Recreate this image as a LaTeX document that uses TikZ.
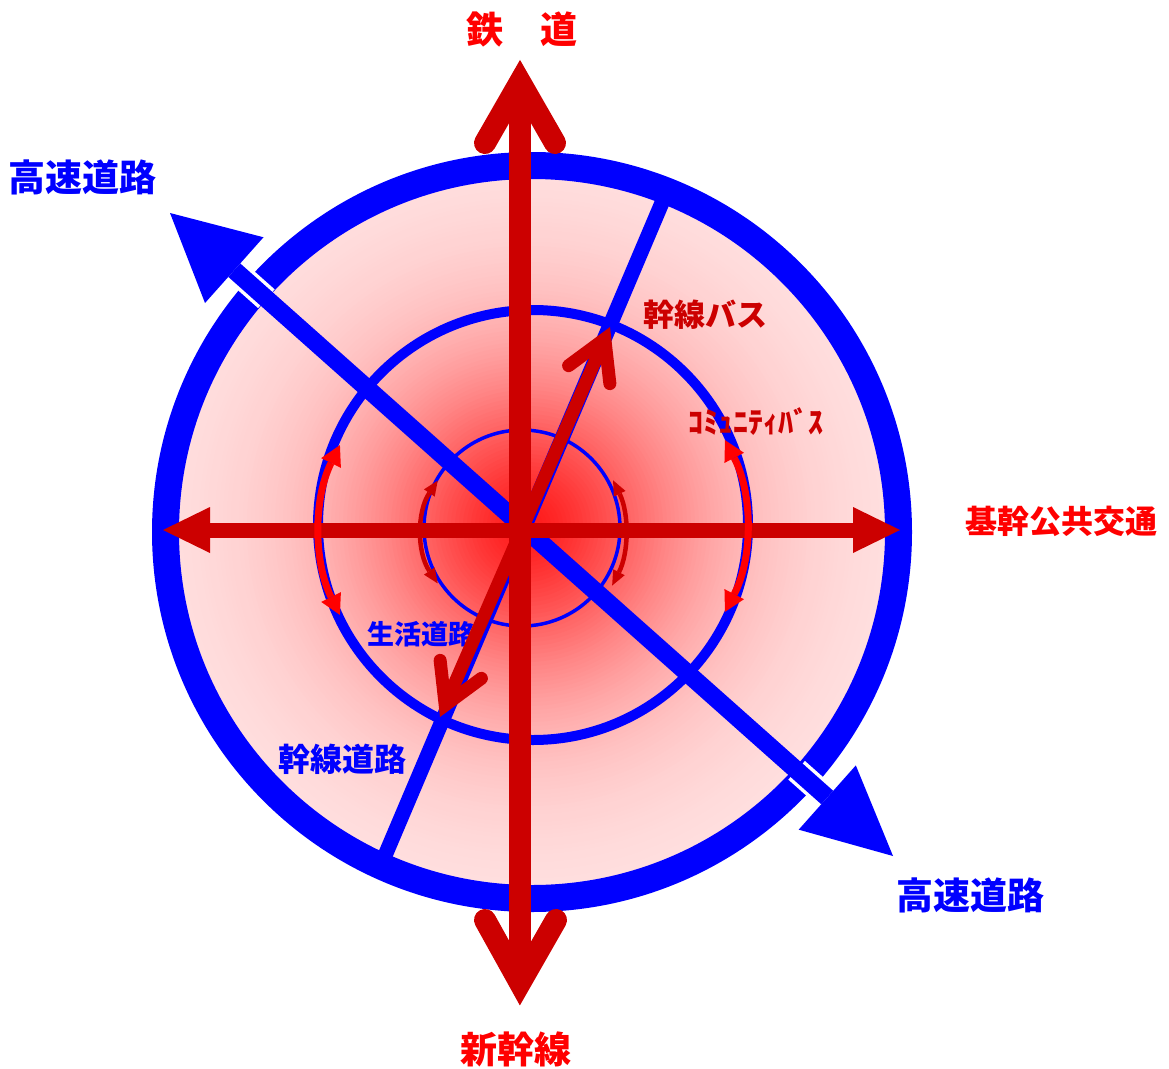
\documentclass[tikz,border=0pt]{standalone}
\usepackage{fontspec}
\newfontfamily\jp{Noto Sans CJK JP}
\usetikzlibrary{arrows.meta,calc}
\definecolor{dred}{HTML}{CC0000}
\definecolor{lred}{HTML}{FF0000}
\definecolor{blu}{HTML}{0000FF}
\begin{document}
\begin{tikzpicture}[x=1pt,y=-1pt,
  lbl/.style={font=\jp\bfseries\fontsize{#1}{#1}\selectfont, inner sep=0pt},
  ring/.style={blu, line width=27pt},
  midring/.style={blu, line width=10pt},
  inring/.style={blu, line width=3.5pt},
  bluroad/.style={blu, line width=15pt},
  highway/.style={blu, line width=18pt,
    {Triangle[length=86pt,width=88pt,line width=0pt]}-{Triangle[length=88pt,width=86pt,line width=0pt]}},
  hwborder/.style={white, line width=25pt},
  rail/.style={dred, line width=22pt},
  railhead/.style={dred, line width=22pt, line cap=round, line join=miter},
  trunk/.style={dred, line width=15pt,
    {Triangle[length=47pt,width=46pt,line width=0pt]}-{Triangle[length=47pt,width=46pt,line width=0pt]}},
  busline/.style={dred, line width=13pt},
  bushead/.style={dred, line width=13pt, line cap=round, line join=miter},
  combus/.style={lred, line width=7pt,
    {Triangle[length=20pt,width=22pt,line width=0pt]}-{Triangle[length=20pt,width=22pt,line width=0pt]}},
  localarc/.style={dred, line width=4.5pt,
    {Triangle[length=15pt,width=13pt,line width=0pt]}-{Triangle[length=15pt,width=13pt,line width=0pt]}}
]
\useasboundingbox (0,0) rectangle (1169,1068);
\fill[white] (0,0) rectangle (1169,1068);

% centres
\coordinate (rc) at (532,532);
\coordinate (gc) at (527,526);
\coordinate (mc) at (533,525);
\coordinate (ic) at (522,528);

% gradient disc
\begin{scope}
  \clip (rc) circle[radius=360];
  \fill[red!10!white] (rc) circle[radius=360];
  \foreach \r in {372,368,...,2}{
    \pgfmathsetmacro{\p}{10+80*exp(-((\r/170)^1.6))}
    \fill[red!\p!white] (gc) circle[radius=\r];
  }
\end{scope}

% inner circles
\draw[midring] (mc) circle[radius=215];
\draw[inring] (ic) circle[radius=98];

% trunk road (blue)
\coordinate (kd1) at (664,198);
\coordinate (kd2) at (381,865);
\draw[bluroad] (kd1) -- (kd2);

% outer ring
\draw[ring] (rc) circle[radius=366.5];

% highway
\coordinate (hw1) at (170,213);
\coordinate (hw2) at (893,856);
\draw[hwborder] ($(hw1)!84pt!(hw2)$) -- ($(hw1)!129pt!(hw2)$);
\draw[hwborder] ($(hw2)!86pt!(hw1)$) -- ($(hw2)!129pt!(hw1)$);
\draw[highway] (hw1) -- (hw2);

% local road label (under red arrow)
\node[lbl=27, text=blu] (t8) at (421,634) {生活道路};

% trunk public transport (horizontal)
\coordinate (hL) at (163,530);
\coordinate (hR) at (900,530);
\draw[trunk] (hL) -- (hR);

% railway (vertical)
\coordinate (vT) at (520,82);
\coordinate (vB) at (520,983);
\coordinate (vTL) at (485,143);
\coordinate (vTR) at (555,143);
\coordinate (vBL) at (485,920);
\coordinate (vBR) at (556,920);
\draw[rail] (vT) -- (vB);
\draw[railhead] (vTL) -- (vT) -- (vTR);
\draw[railhead] (vBL) -- (vB) -- (vBR);

% trunk bus
\coordinate (bT) at (610,327);
\coordinate (bB) at (440,717);
\coordinate (bVT) at ($(bT)!13pt!(bB)$);
\coordinate (bVB) at ($(bB)!13pt!(bT)$);
\coordinate (bT1) at ($(bVT)!45pt!30:(bB)$);
\coordinate (bT2) at ($(bVT)!45pt!-30:(bB)$);
\coordinate (bB1) at ($(bVB)!45pt!30:(bT)$);
\coordinate (bB2) at ($(bVB)!45pt!-30:(bT)$);
\draw[busline] (bVB) -- (bVT);
\draw[bushead] (bT1) -- (bVT) -- (bT2);
\draw[bushead] (bB1) -- (bVB) -- (bB2);

% community bus arcs
\coordinate (cR) at (560,526);
\coordinate (cL) at (511,530);
\draw[combus] (cR) ++(-27.5:186) arc[start angle=-27.5, end angle=27.5, radius=186];
\draw[combus] (cL) ++(206.4:191) arc[start angle=206.4, end angle=153.6, radius=191];

% local arcs
\coordinate (sR) at (507,532);
\coordinate (sL) at (514,532);
\draw[localarc] (sR) ++(-26:118) arc[start angle=-26, end angle=27, radius=118];
\draw[localarc] (sL) ++(214:92) arc[start angle=214, end angle=146, radius=92];

% labels
\node[lbl=37, text=lred] (t1) at (522,29) {鉄　道};
\node[lbl=37, text=blu] (t2) at (83,177) {高速道路};
\node[lbl=37, text=blu] (t3) at (970,895) {高速道路};
\node[lbl=32, text=lred] (t4) at (1061,521) {基幹公共交通};
\node[lbl=37, text=lred] (t5) at (516,1049) {新幹線};
\node[lbl=31, text=dred] (t6) at (705,315) {幹線バス};
\node[lbl=30, text=dred] (t7) at (756,422) {ｺﾐｭﾆﾃｨﾊﾞｽ};
\node[lbl=32, text=blu] (t9) at (342,759) {幹線道路};
\end{tikzpicture}
\end{document}
